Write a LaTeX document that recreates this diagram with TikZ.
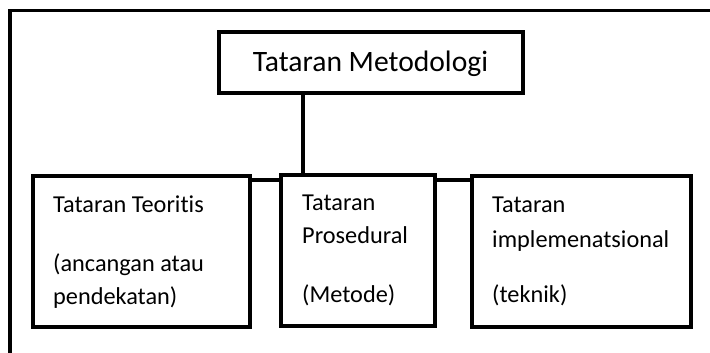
\documentclass[tikz,border=0pt]{standalone}
\usepackage{fontspec}
\setmainfont[Ligatures=NoCommon]{Carlito}
\begin{document}
\begin{tikzpicture}[x=1pt,y=-1pt,
  box/.style={draw=black, line width=4pt, rectangle, inner sep=0pt, outer sep=0pt, fill=white},
  link/.style={draw=black, line width=4pt},
  frame/.style={draw=black, line width=3.5pt},
  small/.style={font=\fontsize{24.3}{29}\selectfont, anchor=base west, inner sep=0pt},
  big/.style={font=\fontsize{29.6}{35}\selectfont, anchor=base, inner sep=0pt}]
  \useasboundingbox (0,0) rectangle (710,353);
  % outer frame, running off the page to the right and bottom
  \coordinate (fa) at (10,360);
  \coordinate (fb) at (10,10.5);
  \coordinate (fc) at (720,10.5);
  \draw[frame] (fa) -- (fb) -- (fc);
  % boxes
  \node[box, minimum width=303.5pt, minimum height=61.5pt] (top) at (370.75,62.75) {};
  \node[box, minimum width=217pt, minimum height=151pt] (left) at (141.5,251.5) {};
  \node[box, minimum width=154.5pt, minimum height=150.5pt] (mid) at (357.75,250.25) {};
  \node[box, minimum width=219pt, minimum height=151pt] (right) at (581,251.5) {};
  % connectors
  \coordinate (vx) at (303,0);
  \coordinate (hy) at (0,180);
  \draw[link] (top.south -| vx) -- (mid.north -| vx);
  \draw[link] (left.east |- hy) -- (mid.west |- hy);
  \draw[link] (mid.east |- hy) -- (right.west |- hy);
  % labels
  \node[big] (t0) at (370.5,71) {Tataran Metodologi};
  \node[small] (l1) at (53,212) {Tataran Teoritis};
  \node[small] (l2) at (53,271) {(ancangan atau};
  \node[small] (l3) at (53,304) {pendekatan)};
  \node[small] (m1) at (302,210) {Tataran};
  \node[small] (m2) at (302,243) {Prosedural};
  \node[small] (m3) at (302,302) {(Metode)};
  \node[small] (r1) at (492,212) {Tataran};
  \node[small] (r2) at (492,247) {implemenatsional};
  \node[small] (r3) at (492,302) {(teknik)};
\end{tikzpicture}
\end{document}
